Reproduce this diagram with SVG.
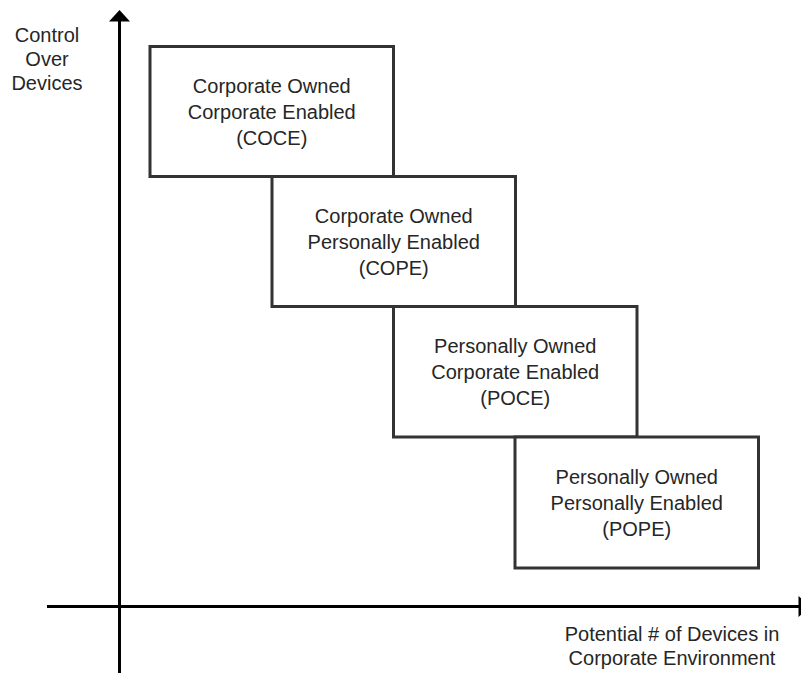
<svg xmlns="http://www.w3.org/2000/svg" width="801" height="675" viewBox="0 0 801 675">
  <style>
    .box { fill: #ffffff; stroke: #333333; stroke-width: 3; }
    .axis { stroke: #000000; stroke-width: 3; fill: none; }
    .head { fill: #000000; stroke: none; }
    text { font-family: "Liberation Sans", Arial, Helvetica, sans-serif; font-size: 20px; fill: #262626; text-anchor: middle; }
  </style>

  <!-- axes -->
  <g id="connectors">
    <line class="axis" x1="119.5" y1="673" x2="119.5" y2="20"/>
    <polygon class="head" points="119.5,10 109,21.5 130,21.5"/>
    <line class="axis" x1="47" y1="606.5" x2="800" y2="606.5"/>
    <polygon class="head" points="798.5,596 810,606.5 798.5,617"/>
  </g>

  <!-- axis labels -->
  <g id="y-label">
    <text x="47" y="41.5">Control</text>
    <text x="47" y="65.5">Over</text>
    <text x="47" y="89.5">Devices</text>
  </g>
  <g id="x-label">
    <text x="672" y="641">Potential # of Devices in</text>
    <text x="672" y="665">Corporate Environment</text>
  </g>

  <!-- ownership / enablement models -->
  <g id="coce">
    <rect class="box" x="150" y="46.5" width="243.5" height="130"/>
    <text x="271.75" y="92.5">Corporate Owned</text>
    <text x="271.75" y="118.5">Corporate Enabled</text>
    <text x="271.75" y="144.5">(COCE)</text>
  </g>
  <g id="cope">
    <rect class="box" x="272" y="176.5" width="243.5" height="130"/>
    <text x="393.75" y="222.5">Corporate Owned</text>
    <text x="393.75" y="248.5">Personally Enabled</text>
    <text x="393.75" y="274.5">(COPE)</text>
  </g>
  <g id="poce">
    <rect class="box" x="393.5" y="306.5" width="243.5" height="130.5"/>
    <text x="515.25" y="353">Personally Owned</text>
    <text x="515.25" y="379">Corporate Enabled</text>
    <text x="515.25" y="405">(POCE)</text>
  </g>
  <g id="pope">
    <rect class="box" x="515" y="437" width="243.5" height="131"/>
    <text x="636.75" y="483.5">Personally Owned</text>
    <text x="636.75" y="509.5">Personally Enabled</text>
    <text x="636.75" y="535.5">(POPE)</text>
  </g>
</svg>
